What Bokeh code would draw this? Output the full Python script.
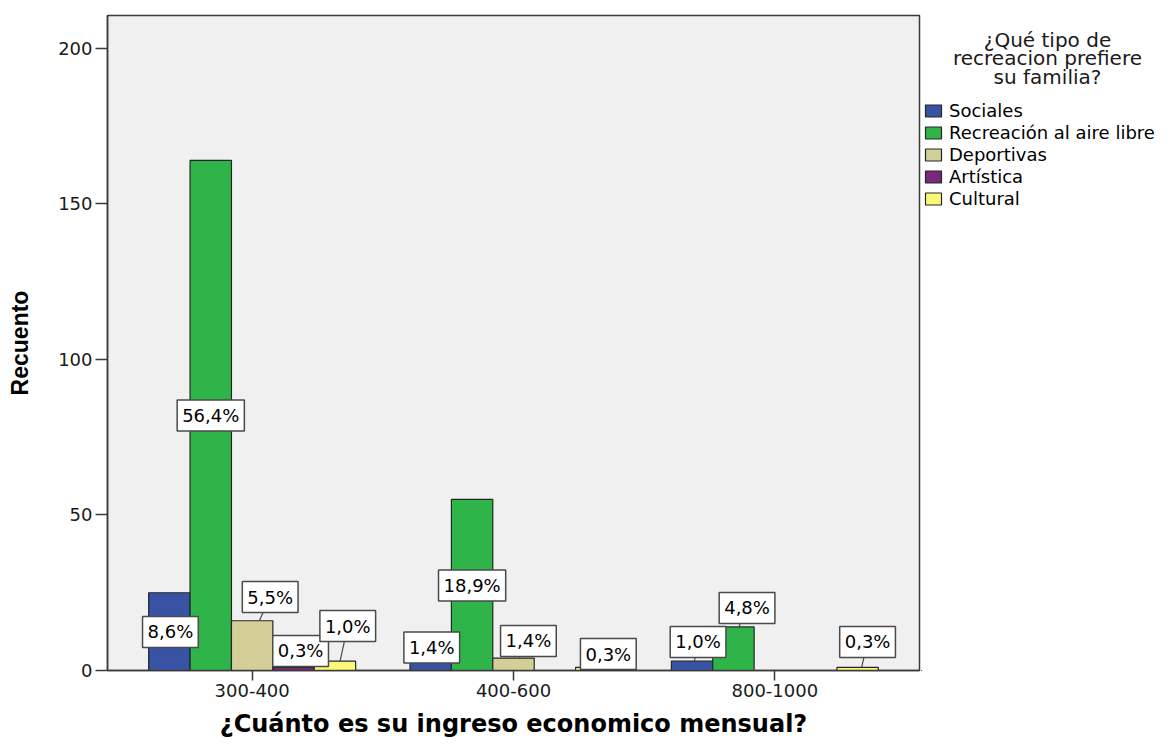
from bokeh.plotting import figure
from bokeh.layouts import row
from bokeh.models import (FactorRange, Range1d, FixedTicker, Legend, LegendItem,
                          Label, ColumnDataSource)
from bokeh.transform import dodge
from bokeh.core.properties import value
from bokeh.embed import file_html
from bokeh.resources import INLINE

# ---------------- data ----------------
categories = ["300-400", "400-600", "800-1000"]
series_names = ["Sociales", "Recreación al aire libre", "Deportivas", "Artística", "Cultural"]
sociales = [25, 4, 3]
recreacion = [164, 55, 14]
deportivas = [16, 4, 0]
artistica = [1, 0, 0]
cultural = [3, 1, 1]
total_count = 291
y_ticks = [0, 50, 100, 150, 200]
legend_title = ["¿Qué tipo de", "recreacion prefiere", "su familia?"]

# where the percentage boxes sit (count units) and their sideways nudge (category units)
label_y = {
    "Sociales": [12.4, 7.4, 9.2],
    "Recreación al aire libre": [82.0, 27.3, 20.1],
    "Deportivas": [23.6, 9.5, None],
    "Artística": [6.3, None, None],
    "Cultural": [14.3, 5.3, 9.2],
}
label_dx = {
    "Sociales": [0.004, 0.004, 0.023],
    "Recreación al aire libre": [0.0, 0.0, 0.052],
    "Deportivas": [0.069, 0.057, 0.0],
    "Artística": [0.027, 0.0, 0.0],
    "Cultural": [0.049, 0.046, 0.038],
}

colors = ["#3953a4", "#2fb44a", "#d4cf98", "#7a287c", "#fbf877"]
series_values = [sociales, recreacion, deportivas, artistica, cultural]
bar_line = "#262626"

# ---------------- main chart ----------------
p = figure(width=921, height=744, title=None,
           x_range=FactorRange(factors=categories, range_padding=0.0535,
                               range_padding_units="absolute"),
           y_range=Range1d(0, 210.6),
           output_backend="svg", toolbar_location=None,
           min_border_left=107, min_border_right=2,
           min_border_top=15, min_border_bottom=74)

p.background_fill_color = "#f0f0f0"
p.border_fill_color = "white"
p.outline_line_color = "#3a3a3a"
p.outline_line_width = 1.5
p.xgrid.grid_line_color = None
p.ygrid.grid_line_color = None

axis_col = "#3a3a3a"
for ax in (p.xaxis[0], p.yaxis[0]):
    ax.axis_line_color = axis_col
    ax.axis_line_width = 1.5
    ax.major_tick_line_color = axis_col
    ax.major_tick_line_width = 1.5
    ax.major_tick_in = 0
    ax.minor_tick_line_color = None
    ax.major_label_text_font = "DejaVu Sans"
    ax.major_label_text_font_size = "18px"
    ax.major_label_text_color = "#1a1a1a"

p.yaxis.ticker = FixedTicker(ticks=y_ticks)
p.yaxis.major_tick_out = 12
p.yaxis.major_label_standoff = 3
p.yaxis.axis_label = "Recuento"
p.yaxis.axis_label_text_font = "Liberation Sans"
p.yaxis.axis_label_text_font_style = "bold"
p.yaxis.axis_label_text_font_size = "23px"
p.yaxis.axis_label_text_color = "black"
p.yaxis.axis_label_standoff = 22

p.xaxis.major_tick_out = 10
p.xaxis.major_label_standoff = 3
p.xaxis.axis_label = "¿Cuánto es su ingreso economico mensual?"
p.xaxis.axis_label_text_font = "DejaVu Sans"
p.xaxis.axis_label_text_font_style = "bold"
p.xaxis.axis_label_text_font_size = "24px"
p.xaxis.axis_label_text_color = "black"
p.xaxis.axis_label_standoff = 10

bar_w = 0.1584
seg = dict(x0=[], y0=[], x1=[], y1=[])
lab = dict(x=[], y=[], t=[])
half_box = 4.66  # half height of a percentage box, count units

for i, (name, vals, col) in enumerate(zip(series_names, series_values, colors)):
    off = (i - 2) * bar_w
    keep = [j for j, v in enumerate(vals) if v > 0]
    src = ColumnDataSource(dict(cat=[categories[j] for j in keep],
                                top=[vals[j] for j in keep]))
    p.vbar(x=dodge("cat", off, range=p.x_range), top="top", width=bar_w,
           source=src, fill_color=col, line_color=bar_line, line_width=1.2)
    for j in keep:
        ly = label_y[name][j]
        if ly is None:
            continue
        bx = j + 0.5 + off
        lx = bx + label_dx[name][j]
        pct = f"{vals[j] / total_count * 100:.1f}%".replace(".", ",")
        lab["x"].append(lx)
        lab["y"].append(ly)
        lab["t"].append(pct)
        if ly - half_box > vals[j]:
            seg["x0"].append(lx)
            seg["y0"].append(ly)
            seg["x1"].append(bx + 0.4 * label_dx[name][j])
            seg["y1"].append(vals[j])

p.segment(x0="x0", y0="y0", x1="x1", y1="y1", source=ColumnDataSource(seg),
          line_color="#4a4a4a", line_width=1.2)
p.text(x="x", y="y", text="t", source=ColumnDataSource(lab),
       text_font=value("DejaVu Sans"), text_font_size="18px",
       text_color="black", text_align="center", text_baseline="middle",
       background_fill_color="white", border_line_color="#4a4a4a",
       border_line_width=1.5, padding=5)

# ---------------- legend panel (frame aligned with the chart's frame) ----------------
q = figure(width=249, height=744, title=None, x_range=Range1d(0, 1), y_range=Range1d(0, 1),
           output_backend="svg", toolbar_location=None,
           x_axis_location=None, y_axis_location=None, min_border=0)
q.outline_line_color = None
q.xgrid.grid_line_color = None
q.ygrid.grid_line_color = None
q.background_fill_color = "white"
q.border_fill_color = "white"

items = []
for name, col in zip(series_names, colors):
    # legend proxy: kept outside the visible range, only its swatch is shown
    proxy = ColumnDataSource(dict(x=[-5.0], top=[-5.0], bottom=[-6.0]))
    r = q.vbar(x="x", top="top", bottom="bottom", width=0.1, source=proxy,
               fill_color=col, line_color=bar_line, line_width=1.2)
    items.append(LegendItem(label=name, renderers=[r]))

legend = Legend(items=items, location=(2, 461), padding=0, margin=0, spacing=1,
                glyph_width=20, glyph_height=15, label_height=20, label_standoff=6,
                label_text_font="DejaVu Sans", label_text_font_size="18px",
                label_text_color="black",
                border_line_color=None, background_fill_alpha=0)
q.add_layout(legend)

for k, line in enumerate(legend_title):
    q.add_layout(Label(x=126, y=631 - 18.5 * k, x_units="screen", y_units="screen",
                       text=line, text_align="center", text_baseline="alphabetic",
                       text_font="DejaVu Sans", text_font_size="20px",
                       text_color="#1a1a1a"))

layout = row(p, q)
open("out.html", "w").write(file_html(layout, INLINE))
